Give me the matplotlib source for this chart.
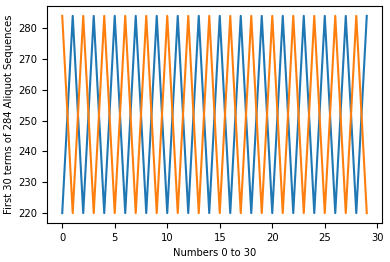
import matplotlib
matplotlib.use("Agg")
import matplotlib.pyplot as plt

x = list(range(30))
seq_220 = [220, 284] * 15
seq_284 = [284, 220] * 15

fig = plt.figure(figsize=(3.9, 2.62), dpi=100)
ax = fig.add_axes([0.1205, 0.149, 0.859, 0.828])
ax.plot(x, seq_220, color="#1f77b4")
ax.plot(x, seq_284, color="#ff7f0e")
ax.set_xlabel("Numbers 0 to 30", fontsize=7.2)
ax.set_ylabel("First 30 terms of 284 Aliquot Sequences", fontsize=7.2, labelpad=3)
ax.set_yticks([220, 230, 240, 250, 260, 270, 280])
ax.tick_params(labelsize=7.2)
fig.savefig("out.png", dpi=100)
